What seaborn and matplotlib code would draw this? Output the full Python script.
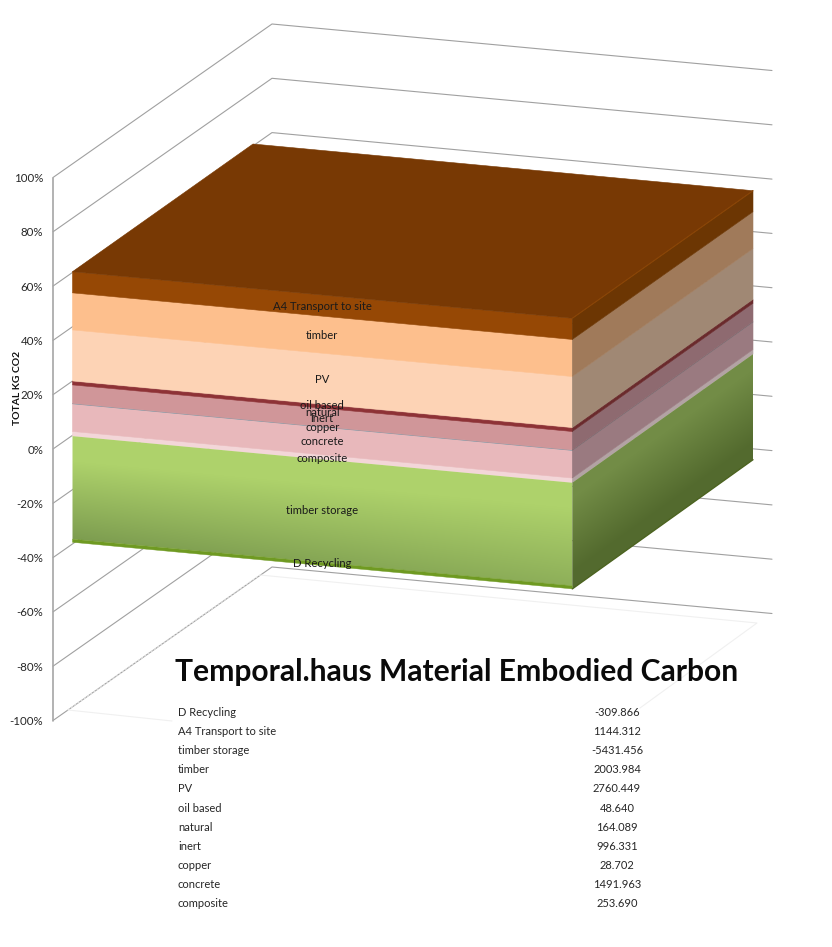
import numpy as np
import pandas as pd
import matplotlib
matplotlib.use("Agg")
import matplotlib.pyplot as plt
from matplotlib.patches import Polygon
from matplotlib.colors import to_rgb
import seaborn as sns

# ---- data -------------------------------------------------------------
table_names = ["D Recycling", "A4 Transport to site", "timber storage", "timber", "PV",
               "oil based", "natural", "inert", "copper", "concrete", "composite"]
table_values = [-309.866, 1144.312, -5431.456, 2003.984, 2760.449,
                48.640, 164.089, 996.331, 28.702, 1491.963, 253.690]
table_text = ["-309.866", "1144.312", "-5431.456", "2003.984", "2760.449",
              "48.640", "164.089", "996.331", "28.702", "1491.963", "253.690"]
positive_order = ["composite", "concrete", "copper", "inert", "natural", "oil based",
                  "PV", "timber", "A4 Transport to site"]
negative_order = ["timber storage", "D Recycling"]
axis_ticks = [100, 80, 60, 40, 20, 0, -20, -40, -60, -80, -100]

front_colors = {"composite": "#F3D6D8", "concrete": "#E8B8BB", "copper": "#8C9CA8",
                "inert": "#D09699", "natural": "#8E3236", "oil based": "#8E3236",
                "PV": "#FDD3B5", "timber": "#FDBF8D", "A4 Transport to site": "#964805"}
side_colors = {"composite": "#B3A3A4", "concrete": "#9A7A80", "copper": "#7C7378",
               "inert": "#8E6A70", "natural": "#6A2A2C", "oil based": "#6A2A2C",
               "PV": "#A08874", "timber": "#A07A5A", "A4 Transport to site": "#6C3603"}
top_color = "#783904"

sns.set_theme(style="white")
plt.rcParams["font.family"] = ["Lato", "DejaVu Sans"]

fig = plt.figure(figsize=(8.32, 9.47), dpi=100, facecolor="white")
ax = fig.add_axes([0, 0, 1, 1])
ax.set_xlim(0, 832)
ax.set_ylim(947, 0)
ax.axis("off")

# ---- projection of the 3-D scene onto the page --------------------------
WALL_Y100, WALL_STEP = 177.5, 2.715      # px of the wall at 100 %, px per %
DX, DY = 219.0, -153.5                   # left wall depth
RX, RY = 500.0, 46.5                     # back wall width


def wall_y(p):
    return WALL_Y100 + (100 - p) * WALL_STEP


# walls: long-form gridlines
rows = []
for t in axis_ticks:
    y = wall_y(t)
    rows += [dict(t=t, px=53, py=y, o=0), dict(t=t, px=53 + DX, py=y + DY, o=1),
             dict(t=t, px=53 + DX + RX, py=y + DY + RY, o=2)]
grid = pd.DataFrame(rows)
sns.lineplot(data=grid, x="px", y="py", units="t", estimator=None, sort=False,
             color="#A0A0A0", lw=0.8, ax=ax, legend=False, zorder=1)
ax.plot([53, 53], [wall_y(100), wall_y(-100)], color="#A6A6A6", lw=1.2, zorder=1)
ax.set_xlim(0, 832)
ax.set_ylim(947, 0)
ax.set_xlabel("")
ax.set_ylabel("")
ax.axis("off")

# faint floor outline
ax.plot([68, 260], [710, 575], color="#E2E2E2", lw=0.8, ls=(0, (2, 1.5)), zorder=1)
ax.plot([260, 757, 640], [575, 623, 708], color="#F0F0F0", lw=0.8, zorder=1)
ax.plot([68, 172], [710, 721], color="#F0F0F0", lw=0.8, zorder=1)

for t in axis_ticks:
    ax.text(43, wall_y(t) + 1, f"{t}%", ha="right", va="center", fontsize=8.3, color="#262626")
ax.text(18, 388, "TOTAL KG CO2", rotation=90, ha="center", va="center",
        fontsize=7.5, fontweight="bold", color="#111111")

# ---- stacked 100 % block ------------------------------------------------
val = dict(zip(table_names, table_values))
total = sum(abs(v) for v in table_values)
pct = {k: abs(v) / total * 100 for k, v in val.items()}
pos_sum = sum(pct[k] for k in positive_order)

FL = (72.5, 271.7)
FR = (572.3, 318.3)
BR = (753.0, 190.7)
BL = (253.0, 144.0)
S_FRONT = 2.706
S_BACK = 2.69


def front(p, u):
    """page position of level p (% from zero) at fraction u along the front face"""
    d = (pos_sum - p) * S_FRONT
    return FL[0] + (FR[0] - FL[0]) * u, FL[1] + (FR[1] - FL[1]) * u + d


def side(p, u):
    """page position of level p at fraction u along the right face"""
    d0 = (pos_sum - p) * S_FRONT
    d1 = (pos_sum - p) * S_BACK
    return FR[0] + (BR[0] - FR[0]) * u, FR[1] + (BR[1] - FR[1]) * u + d0 + (d1 - d0) * u


def quad(fn, a, b):
    return [fn(a, 0), fn(a, 1), fn(b, 1), fn(b, 0)]


levels = {}
acc = 0.0
for k in positive_order:
    levels[k] = (acc, acc + pct[k])
    acc += pct[k]
acc = 0.0
for k in negative_order:
    levels[k] = (acc, acc - pct[k])
    acc -= pct[k]

for k in positive_order:
    a, b = levels[k]
    ax.add_patch(Polygon(quad(front, a, b), closed=True, fc=front_colors[k], ec=front_colors[k], lw=0.4, zorder=3))
    ax.add_patch(Polygon(quad(side, a, b), closed=True, fc=side_colors[k], ec=side_colors[k], lw=0.4, zorder=3))

ax.add_patch(Polygon([FL, BL, BR, FR], closed=True, fc=top_color, ec=top_color, lw=0.4, zorder=3))
ax.plot([FR[0], BR[0]], [FR[1], BR[1]], color="#8A4506", lw=0.8, zorder=3.5)


def shaded(fn_poly, xr, yr, vfun, c0, c1):
    xs = np.arange(xr[0], xr[1] + 1)
    ys = np.arange(yr[0], yr[1] + 1)
    X, Y = np.meshgrid(xs, ys)
    v = np.clip(vfun(X, Y), 0, 1)[..., None]
    img = np.array(to_rgb(c0)) * (1 - v) + np.array(to_rgb(c1)) * v
    im = ax.imshow(img, extent=(xr[0] - .5, xr[1] + .5, yr[1] + .5, yr[0] - .5),
                   aspect="auto", interpolation="bilinear", zorder=3)
    patch = Polygon(fn_poly, closed=True, transform=ax.transData, fc="none", ec="none")
    ax.add_patch(patch)
    im.set_clip_path(patch)


lo = levels["D Recycling"][1]
band_top = levels["D Recycling"][0]
band_mid = band_top - 0.45 * pct["D Recycling"]


def v_front(X, Y):
    u = (X - FL[0]) / (FR[0] - FL[0])
    top = front(0, 0)[1] + (front(0, 1)[1] - front(0, 0)[1]) * u
    bot = front(band_mid, 0)[1] + (front(band_mid, 1)[1] - front(band_mid, 0)[1]) * u
    return ((Y - top) / (bot - top) - 0.25) / 0.75 * (1 - 0.35 * u)


def v_side(X, Y):
    u = (X - FR[0]) / (BR[0] - FR[0])
    top = side(0, 0)[1] + (side(0, 1)[1] - side(0, 0)[1]) * u
    bot = side(lo, 0)[1] + (side(lo, 1)[1] - side(lo, 0)[1]) * u
    return ((Y - top) / (bot - top) - 0.15) / 0.7


shaded(quad(front, 0, band_mid), (70, 575), (430, 592), v_front, "#AED26B", "#7D9D50")
shaded(quad(side, 0, lo), (570, 755), (345, 592), v_side, "#728C46", "#536A2E")

ax.add_patch(Polygon(quad(front, band_mid, lo), closed=True, fc="#6F9A22", ec="#6F9A22", lw=0.3, zorder=3))
ax.plot([side(lo, 0)[0], side(lo, 1)[0]], [side(lo, 0)[1], side(lo, 1)[1]],
        color="#4C6320", lw=1.0, zorder=3.2)

ax.set_xlim(0, 832)
ax.set_ylim(947, 0)

# data labels on the centre of the front face
for k, (a, b) in levels.items():
    x, y = front((a + b) / 2, 0.5)
    if k == "natural":
        y += 5
    ax.text(x, y + 1, k, ha="center", va="center", fontsize=8.1, color="#1A1A1A", zorder=5)

# ---- title and data table -----------------------------------------------
ax.text(175, 671.5, "Temporal.haus Material Embodied Carbon", ha="left", va="center",
        fontsize=21.65, fontweight="bold", color="#0A0A0A", zorder=6)
for i, (n, s) in enumerate(zip(table_names, table_text)):
    y = 712.5 + i * 19.1
    ax.text(178, y, n, ha="left", va="center", fontsize=8, color="#262626", zorder=6)
    ax.text(617, y, s, ha="center", va="center", fontsize=8, color="#262626", zorder=6)

fig.savefig("out.png", dpi=100, facecolor="white")
